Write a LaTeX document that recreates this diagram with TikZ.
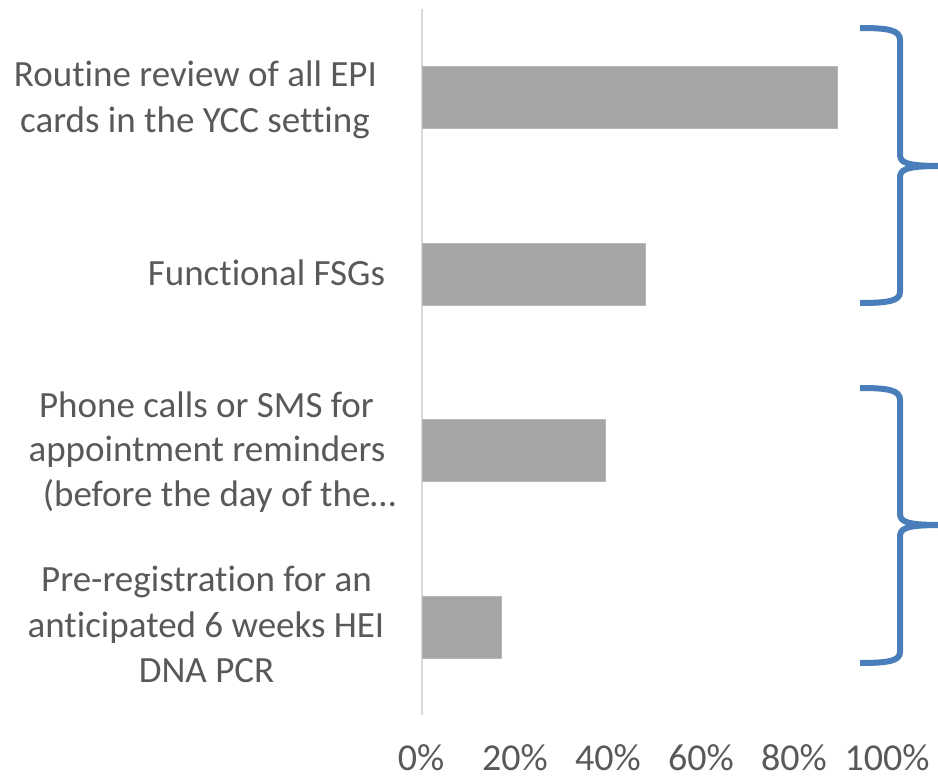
\documentclass[tikz,border=0pt]{standalone}
\usepackage{fontspec}
\setmainfont{Carlito}[Ligatures=NoCommon]
\definecolor{txt}{HTML}{595959}
\definecolor{barc}{HTML}{A5A5A5}
\definecolor{axisc}{HTML}{D9D9D9}
\definecolor{bracec}{HTML}{4A7EBB}
\tikzset{
  lbl/.style={anchor=base, inner sep=0pt, text depth=0pt, text=txt, font=\fontsize{37}{44}\selectfont},
  tick/.style={anchor=base, inner sep=0pt, text depth=0pt, text=txt, font=\fontsize{38}{44}\selectfont},
  barbox/.style={fill=barc, draw=barc!80!white, line width=0.8pt},
  bracepath/.style={draw=bracec, line width=6pt, line cap=butt, line join=round},
}
\begin{document}
\begin{tikzpicture}[x=1pt,y=-1pt]
\useasboundingbox (0,0) rectangle (938,779);
% axis
\coordinate (axtop) at (422,9);
\coordinate (axbot) at (422,715);
\draw[axisc, line width=2pt] (axtop) -- (axbot);
% bars (value scale: 465 units = 100%)
\path[barbox] (422,66) rectangle (837,128);
\path[barbox] (422,243) rectangle (645,305);
\path[barbox] (422,419) rectangle (605,481);
\path[barbox] (422,596) rectangle (501,658);
% category labels
\node[lbl] (c1a) at (195.5,86) {Routine review of all EPI};
\node[lbl] (c1b) at (195,132) {cards in the YCC setting};
\node[lbl] (c2) at (266.5,285) {Functional FSGs};
\node[lbl] (c3a) at (206.5,417) {Phone calls or SMS for};
\node[lbl] (c3b) at (207,461) {appointment reminders};
\node[lbl] (c3c) at (219.5,506.5) {(before the day of the…};
\node[lbl] (c4a) at (206.5,591.5) {Pre-registration for an};
\node[lbl] (c4b) at (206,637.5) {anticipated 6 weeks HEI};
\node[lbl] (c4c) at (206.5,682.5) {DNA PCR};
% tick labels
\node[tick] (t0) at (421,770) {0\%};
\node[tick] (t20) at (515,770) {20\%};
\node[tick] (t40) at (608,770) {40\%};
\node[tick] (t60) at (701,770) {60\%};
\node[tick] (t80) at (794,770) {80\%};
\node[tick] (t100) at (887,770) {100\%};
% braces
\path[bracepath] (860,28) .. controls (888,28) and (900,30) .. (900,40)
  -- (900,154) .. controls (900,162) and (904,166) .. (940,166);
\path[bracepath] (940,166) .. controls (904,166) and (900,170) .. (900,178)
  -- (900,292) .. controls (900,301) and (888,303) .. (860,303);
\path[bracepath] (860,388) .. controls (888,388) and (900,390) .. (900,400)
  -- (900,513) .. controls (900,521) and (904,525) .. (940,525);
\path[bracepath] (940,525) .. controls (904,525) and (900,529) .. (900,537)
  -- (900,652) .. controls (900,661) and (888,663) .. (860,663);
\end{tikzpicture}
\end{document}
